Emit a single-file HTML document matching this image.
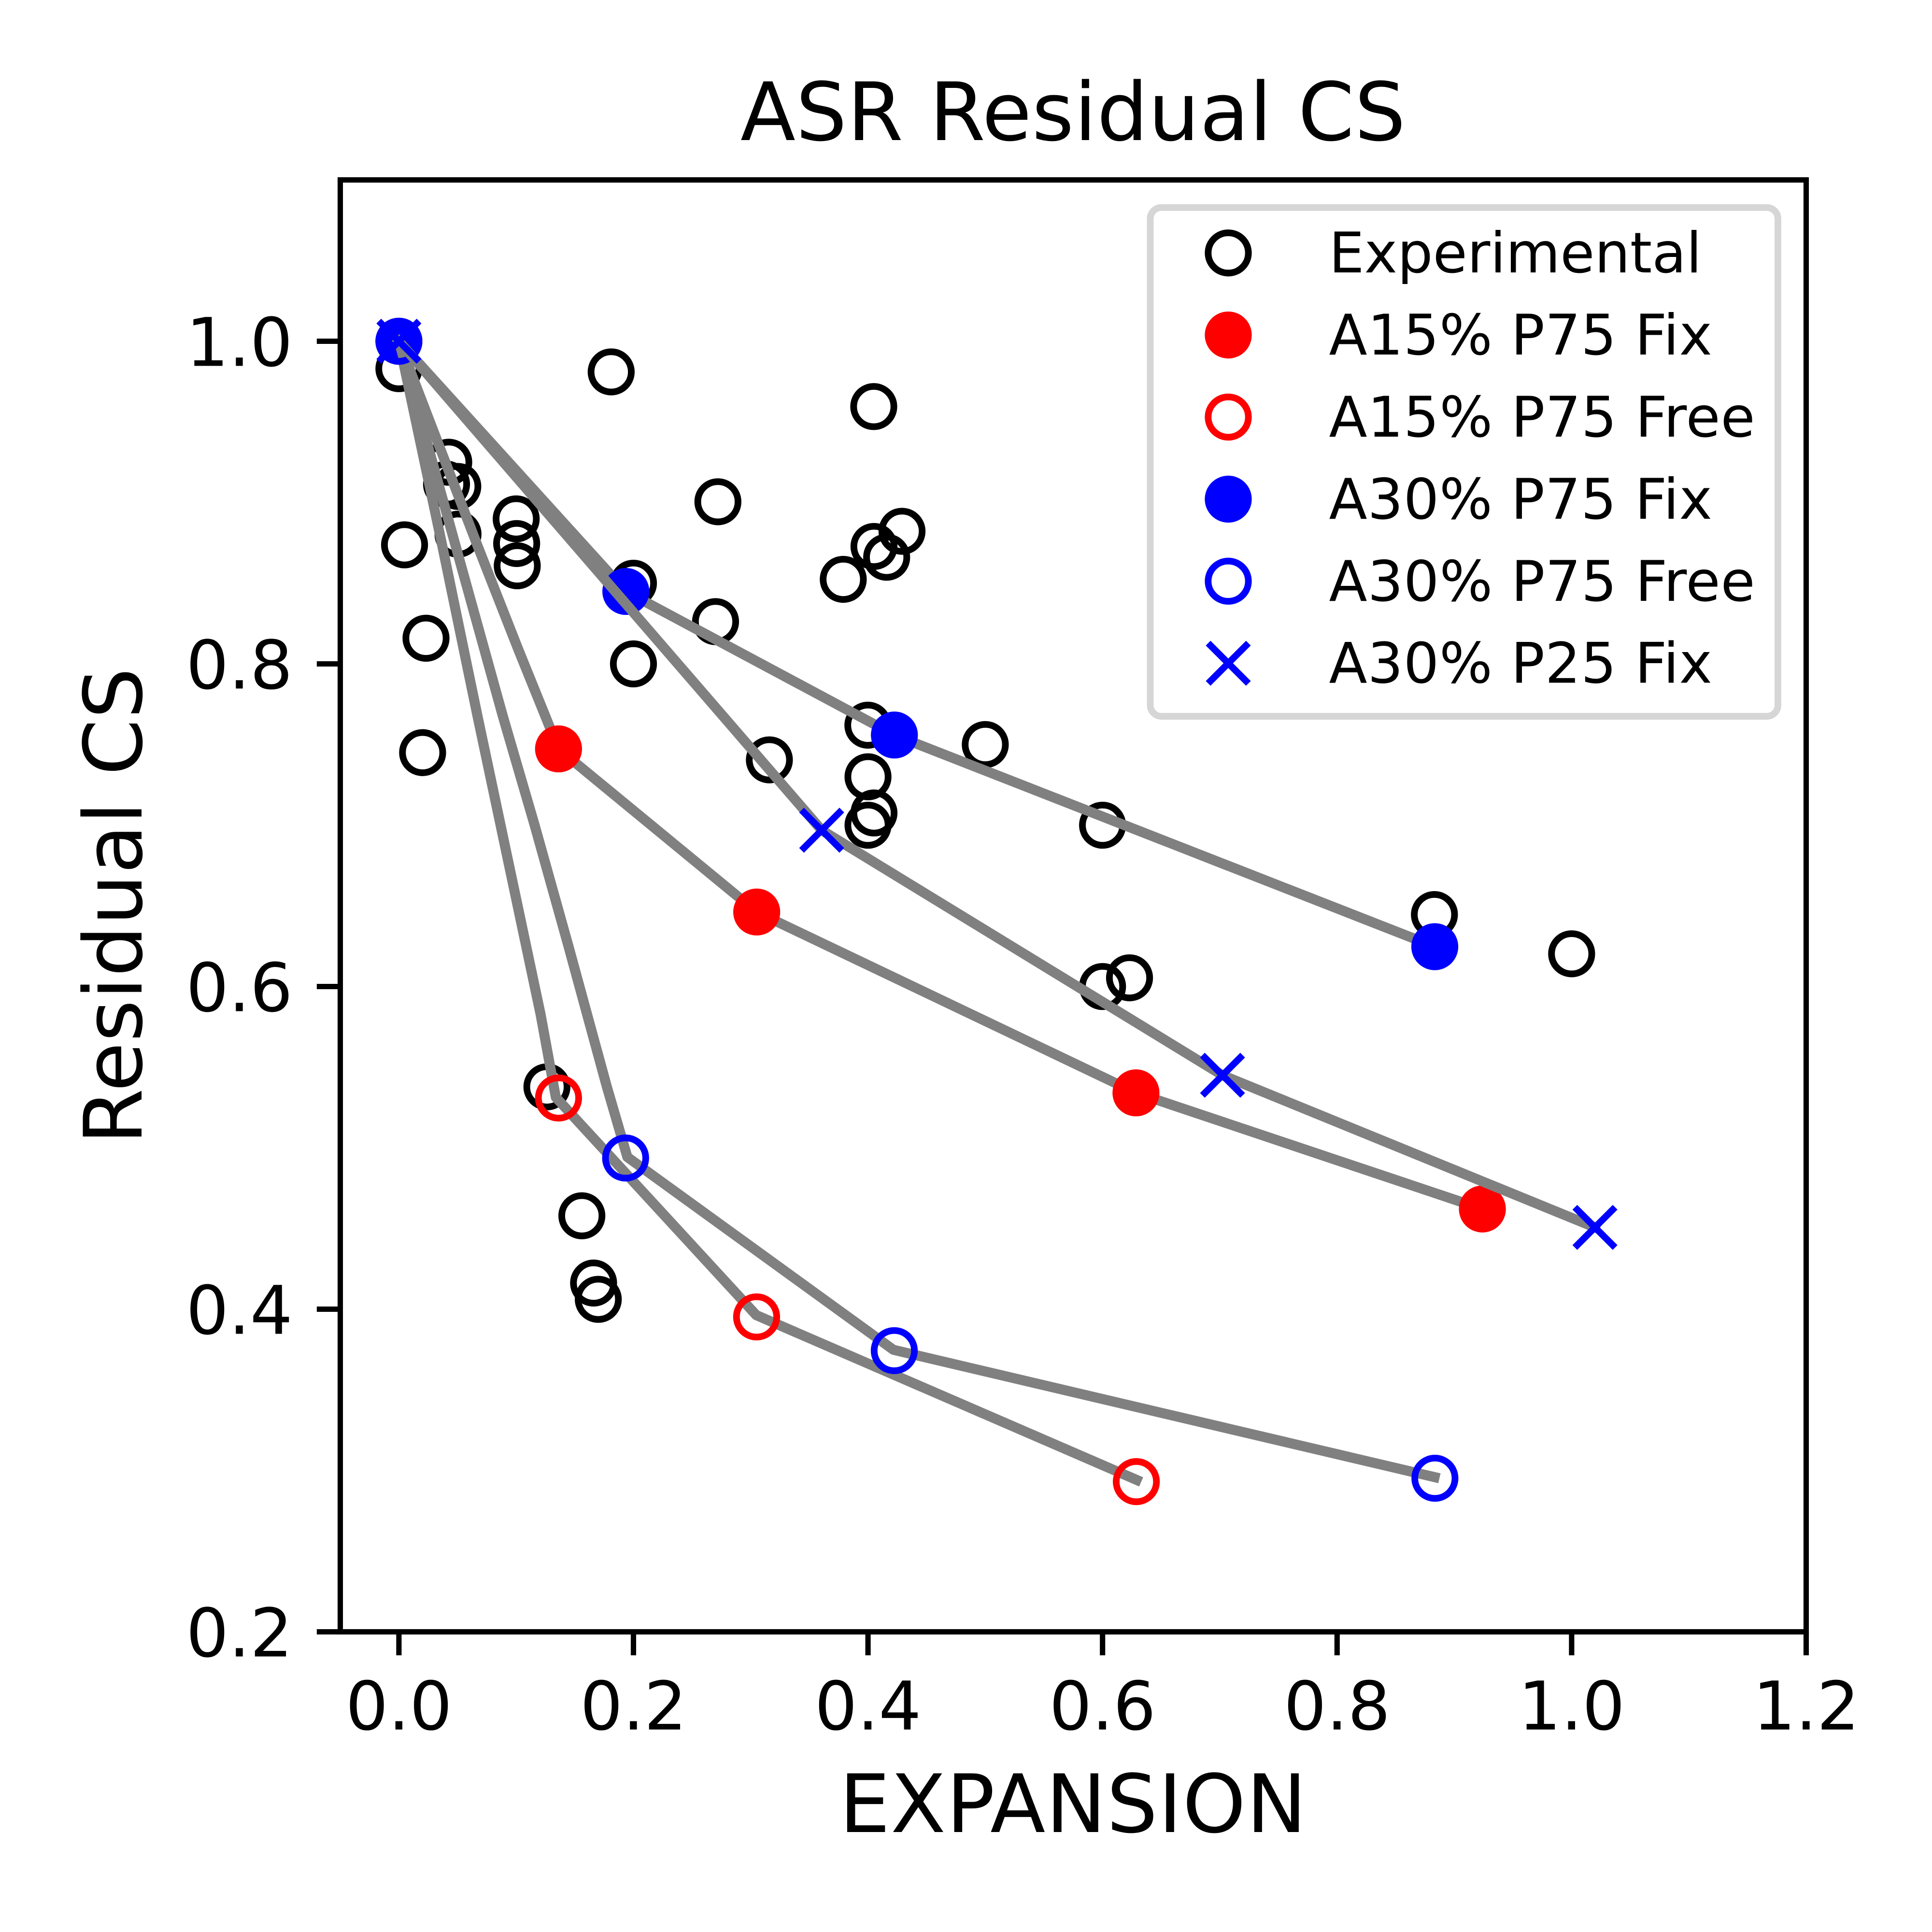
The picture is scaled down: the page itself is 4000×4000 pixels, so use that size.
<!DOCTYPE html>
<html lang="en">
<head>
<meta charset="utf-8">
<title>ASR Residual CS</title>
<style>
html,body{margin:0;padding:0;background:#fff;width:4000px;height:4000px;overflow:hidden}
svg{display:block}
text{font-family:"DejaVu Sans","Liberation Sans",sans-serif;fill:#000}
</style>
</head>
<body>
<svg id="chart" xmlns="http://www.w3.org/2000/svg" width="4000" height="4000" viewBox="0 0 4000 4000">
  <rect x="0" y="0" width="4000" height="4000" fill="#fff"/>
  <g id="marks"></g>
  <rect x="704.5" y="372.5" width="3035" height="3006" fill="none" stroke="#000" stroke-width="11.1"/>
  <g id="ticks"></g>
  <text x="2222" y="290" font-size="166.67" text-anchor="middle" letter-spacing="0.7">ASR Residual CS</text>
  <text x="2222" y="3793" font-size="166.67" text-anchor="middle" letter-spacing="1.1">EXPANSION</text>
  <text x="293" y="1875.5" font-size="166.67" text-anchor="middle" letter-spacing="0.8" transform="rotate(-90 293 1875.5)">Residual CS</text>

  <g>
    <rect x="2381.5" y="429.7" width="1299.5" height="1053.3" rx="23" ry="23" fill="#fff" stroke="#d6d6d6" stroke-width="13.9"/>
    <g>
      <circle cx="2543" cy="523.7" r="41.67" fill="none" stroke="#000" stroke-width="13.9"/>
      <text x="2751.5" y="564.2" font-size="115.74">Experimental</text>
    </g>
    <g>
      <circle cx="2543" cy="693.6" r="41.67" fill="#f00" stroke="#f00" stroke-width="13.9"/>
      <text x="2751.5" y="734.1" font-size="115.74" letter-spacing="0.7">A15% P75 Fix</text>
    </g>
    <g>
      <circle cx="2543" cy="863.5" r="41.67" fill="none" stroke="#f00" stroke-width="13.9"/>
      <text x="2751.5" y="904" font-size="115.74" letter-spacing="0.8">A15% P75 Free</text>
    </g>
    <g>
      <circle cx="2543" cy="1033.4" r="41.67" fill="#00f" stroke="#00f" stroke-width="13.9"/>
      <text x="2751.5" y="1073.9" font-size="115.74" letter-spacing="0.7">A30% P75 Fix</text>
    </g>
    <g>
      <circle cx="2543" cy="1203.3" r="41.67" fill="none" stroke="#00f" stroke-width="13.9"/>
      <text x="2751.5" y="1243.8" font-size="115.74" letter-spacing="0.8">A30% P75 Free</text>
    </g>
    <g>
      <path d="M2501.33 1331.53L2584.67 1414.87M2501.33 1414.87L2584.67 1331.53" fill="none" stroke="#00f" stroke-width="13.9"/>
      <text x="2751.5" y="1413.7" font-size="115.74" letter-spacing="0.7">A30% P25 Fix</text>
    </g>
  </g>
</svg>
<script>
// Tick labels
const xTickValues = [0, 0.2, 0.4, 0.6, 0.8, 1.0, 1.2];
const xTickLabels = ['0.0', '0.2', '0.4', '0.6', '0.8', '1.0', '1.2'];
const yTickValues = [0.2, 0.4, 0.6, 0.8, 1.0];
const yTickLabels = ['0.2', '0.4', '0.6', '0.8', '1.0'];

// Experimental scatter
const expX = [0, 0.181, 0.272, 0.0425, 0.0502, 0.0406, 0.0504, 0.1, 0.1004, 0.1009, 0.0048, 0.0231, 0.0202, 0.2, 0.2, 0.27, 0.429, 0.4051, 0.4159, 0.3789, 0.3999, 0.5, 0.3159, 0.4, 0.4051, 0.4, 0.6, 0.4049, 0.883, 1.0, 0.6, 0.623, 0.1262, 0.156, 0.166, 0.17];
const expY = [0.983, 0.981, 0.9005, 0.925, 0.91, 0.9114, 0.8804, 0.8899, 0.8746, 0.8608, 0.8738, 0.8159, 0.745, 0.85, 0.8, 0.8262, 0.8822, 0.8728, 0.8661, 0.8524, 0.762, 0.75, 0.7405, 0.73, 0.7076, 0.7, 0.7, 0.9595, 0.6446, 0.6203, 0.6, 0.6054, 0.5378, 0.4579, 0.4162, 0.4061];

// Model markers
const a15FixX = [0, 0.1361, 0.3051, 0.6285, 0.9239];
const a15FixY = [1.0, 0.7473, 0.6462, 0.5341, 0.4621];
const a15FreeX = [0, 0.1361, 0.305, 0.6288];
const a15FreeY = [1.0, 0.5309, 0.3952, 0.2931];
const a30FixX = [0, 0.1935, 0.4225, 0.8833];
const a30FixY = [1.0, 0.8449, 0.7559, 0.6247];
const a30FreeX = [0, 0.1933, 0.4224, 0.8834];
const a30FreeY = [1.0, 0.4937, 0.3743, 0.2952];
const p25FixX = [0, 0.3605, 0.7023, 1.0199];
const p25FixY = [1.0, 0.6969, 0.545, 0.4507];

// Grey model curves
const a15FixLineX = [0, 0.0669, 0.1016, 0.1244, 0.1361, 0.3051, 0.6285, 0.9239];
const a15FixLineY = [1.0, 0.8735, 0.8093, 0.7684, 0.7473, 0.6462, 0.5341, 0.4621];
const a15FreeLineX = [0, 0.0369, 0.0668, 0.1208, 0.1338, 0.3047, 0.629];
const a15FreeLineY = [1.0, 0.8735, 0.7684, 0.5828, 0.5313, 0.3963, 0.2942];
const a30FixLineX = [0, 0.1935, 0.4225, 0.8833];
const a30FixLineY = [1.0, 0.8449, 0.7559, 0.6247];
const a30FreeLineX = [0, 0.0883, 0.1157, 0.1447, 0.1773, 0.1948, 0.4217, 0.8831];
const a30FreeLineY = [1.0, 0.7684, 0.7001, 0.6247, 0.5379, 0.4943, 0.3748, 0.2959];
const p25FixLineX = [0, 0.3605, 0.7023, 1.0199];
const p25FixLineY = [1.0, 0.6969, 0.545, 0.4507];

const SVG_NS = 'http://www.w3.org/2000/svg';
const xMin = -0.05, xMax = 1.2, yMin = 0.2, yMax = 1.1;
const axLeft = 704.5, axRight = 3739.5, axTop = 372.5, axBottom = 3378.5;
const MS = 41.67, MEW = 13.9, LW = 20.83, TICK = 48.6, TICKW = 11.1;

function xScale(v) { return axLeft + (v - xMin) / (xMax - xMin) * (axRight - axLeft); }
function yScale(v) { return axBottom - (v - yMin) / (yMax - yMin) * (axBottom - axTop); }

const marks = document.getElementById('marks');
const ticks = document.getElementById('ticks');

function drawLine(xs, ys, name) {
  const el = document.createElementNS(SVG_NS, 'polyline');
  
  
  el.setAttribute('points', xs.map((v, i) => xScale(v).toFixed(2) + ',' + yScale(ys[i]).toFixed(2)).join(' '));
  el.setAttribute('fill', 'none');
  el.setAttribute('stroke', '#808080');
  el.setAttribute('stroke-width', LW);
  el.setAttribute('stroke-linecap', 'square');
  el.setAttribute('stroke-linejoin', 'round');
  marks.appendChild(el);
}

function drawCircles(xs, ys, face, edge, name) {
  xs.forEach((v, i) => {
    const el = document.createElementNS(SVG_NS, 'circle');
    
    
    el.setAttribute('cx', xScale(v).toFixed(2));
    el.setAttribute('cy', yScale(ys[i]).toFixed(2));
    el.setAttribute('r', MS);
    el.setAttribute('fill', face);
    el.setAttribute('stroke', edge);
    el.setAttribute('stroke-width', MEW);
    marks.appendChild(el);
  });
}

function drawCrosses(xs, ys, edge, name) {
  xs.forEach((v, i) => {
    const cx = xScale(v), cy = yScale(ys[i]);
    const el = document.createElementNS(SVG_NS, 'path');
    
    
    el.setAttribute('d', 'M' + (cx - MS) + ' ' + (cy - MS) + 'L' + (cx + MS) + ' ' + (cy + MS) + 'M' + (cx - MS) + ' ' + (cy + MS) + 'L' + (cx + MS) + ' ' + (cy - MS));
    el.setAttribute('fill', 'none');
    el.setAttribute('stroke', edge);
    el.setAttribute('stroke-width', MEW);
    marks.appendChild(el);
  });
}

function drawXTick(v, label) {
  const px = xScale(v);
  const el = document.createElementNS(SVG_NS, 'line');
  
  
  el.setAttribute('x1', px);
  el.setAttribute('x2', px);
  el.setAttribute('y1', axBottom);
  el.setAttribute('y2', axBottom + TICK);
  el.setAttribute('stroke', '#000');
  el.setAttribute('stroke-width', TICKW);
  ticks.appendChild(el);
  const t = document.createElementNS(SVG_NS, 'text');
  
  
  t.setAttribute('x', px);
  t.setAttribute('y', 3580.7);
  t.setAttribute('font-size', 138.89);
  t.setAttribute('text-anchor', 'middle');
  t.textContent = label;
  ticks.appendChild(t);
}

function drawYTick(v, label) {
  const py = yScale(v);
  const el = document.createElementNS(SVG_NS, 'line');
  
  
  el.setAttribute('x1', axLeft - TICK);
  el.setAttribute('x2', axLeft);
  el.setAttribute('y1', py);
  el.setAttribute('y2', py);
  el.setAttribute('stroke', '#000');
  el.setAttribute('stroke-width', TICKW);
  ticks.appendChild(el);
  const t = document.createElementNS(SVG_NS, 'text');
  
  
  t.setAttribute('x', 606);
  t.setAttribute('y', py + 51);
  t.setAttribute('font-size', 138.89);
  t.setAttribute('text-anchor', 'end');
  t.textContent = label;
  ticks.appendChild(t);
}

drawCircles(expX, expY, 'none', '#000', 'experimental-point');
drawLine(a15FixLineX, a15FixLineY, 'a15-p75-fix-curve');
drawCircles(a15FixX, a15FixY, '#f00', '#f00', 'a15-p75-fix-point');
drawLine(a15FreeLineX, a15FreeLineY, 'a15-p75-free-curve');
drawCircles(a15FreeX, a15FreeY, 'none', '#f00', 'a15-p75-free-point');
drawLine(a30FixLineX, a30FixLineY, 'a30-p75-fix-curve');
drawCircles(a30FixX, a30FixY, '#00f', '#00f', 'a30-p75-fix-point');
drawLine(a30FreeLineX, a30FreeLineY, 'a30-p75-free-curve');
drawCircles(a30FreeX, a30FreeY, 'none', '#00f', 'a30-p75-free-point');
drawLine(p25FixLineX, p25FixLineY, 'a30-p25-fix-curve');
drawCrosses(p25FixX, p25FixY, '#00f', 'a30-p25-fix-point');

xTickValues.forEach((v, i) => drawXTick(v, xTickLabels[i]));
yTickValues.forEach((v, i) => drawYTick(v, yTickLabels[i]));
</script>
</body>
</html>
